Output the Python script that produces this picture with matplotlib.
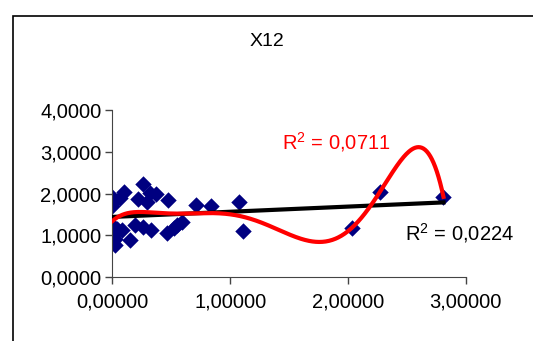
import matplotlib
matplotlib.use("Agg")
import matplotlib.pyplot as plt
import numpy as np
from matplotlib.patches import Rectangle

# data
x_vals = [0.00, 0.00, 0.06, 0.10, 0.26, 0.22, 0.32, 0.29, 0.37, 0.47,
          0.71, 0.84, 1.07, 0.00, 0.02, 0.02, 0.08, 0.15, 0.19, 0.26,
          0.33, 0.46, 0.52, 0.59, 0.55, 0.02, 0.00, 0.04, 1.11, 2.03,
          2.27, 2.81]
y_vals = [1.92, 1.77, 1.89, 2.04, 2.24, 1.88, 2.01, 1.80, 2.00, 1.84,
          1.72, 1.70, 1.80, 1.25, 1.05, 0.77, 1.13, 0.89, 1.25, 1.20,
          1.13, 1.05, 1.17, 1.32, 1.25, 0.90, 1.70, 1.15, 1.09, 1.17,
          2.04, 1.92]
title = "X12"
r2_poly = "0,0711"
r2_lin = "0,0224"
y_ticks = [0, 1, 2, 3, 4]
x_ticks = [0, 1, 2, 3]

plt.rcParams['font.family'] = ['Liberation Sans', 'DejaVu Sans']
plt.rcParams['mathtext.fontset'] = 'custom'
plt.rcParams['mathtext.rm'] = 'Liberation Sans'
plt.rcParams['mathtext.it'] = 'Liberation Sans'

fig = plt.figure(figsize=(5.33, 3.41), dpi=100)
# chart area border (only left and top edges fall inside the image)
fig.patches.append(Rectangle((13/533, -0.2), 1.2, 0.2 + 1 - 16/341,
                             transform=fig.transFigure, fill=False,
                             edgecolor='black', linewidth=1.2))
ax = fig.add_axes([0.211, 0.188, 0.663, 0.489])

x = np.array(x_vals)
y = np.array(y_vals)
ax.scatter(x, y, marker='D', s=70, color='#000080', zorder=2, linewidths=0)

# trend lines, fitted like the spreadsheet does
xs = np.linspace(x.min(), x.max(), 400)
lin = np.polyfit(x, y, 1)
ax.plot(xs, np.polyval(lin, xs), color='black', lw=3, zorder=3)
poly = np.polyfit(x, y, 6)
ax.plot(xs, np.polyval(poly, xs), color='red', lw=3, zorder=4)

ax.set_xlim(0, 3)
ax.set_ylim(0, 4)
ax.set_xticks(x_ticks)
ax.set_yticks(y_ticks)
ax.set_xticklabels([f"{t:.5f}".replace('.', ',') for t in x_ticks])
ax.set_yticklabels([f"{t:.4f}".replace('.', ',') for t in y_ticks])
ax.tick_params(direction='out', length=5, width=1, labelsize=14.5, pad=3,
               color='#444444')
ax.tick_params(axis='x', pad=6)
for s in ['top', 'right']:
    ax.spines[s].set_visible(False)
for s in ['left', 'bottom']:
    ax.spines[s].set_color('#444444')

fig.text(267/533, 1 - 42/341, title, ha='center', va='center', fontsize=14)
fig.text(282/533, 1 - 142/341, r'R$^2$ = ' + r2_poly, color='red',
         fontsize=14.5, va='center')
fig.text(405/533, 1 - 233/341, r'R$^2$ = ' + r2_lin, color='black',
         fontsize=14.5, va='center')

fig.savefig('out.png', dpi=100)
